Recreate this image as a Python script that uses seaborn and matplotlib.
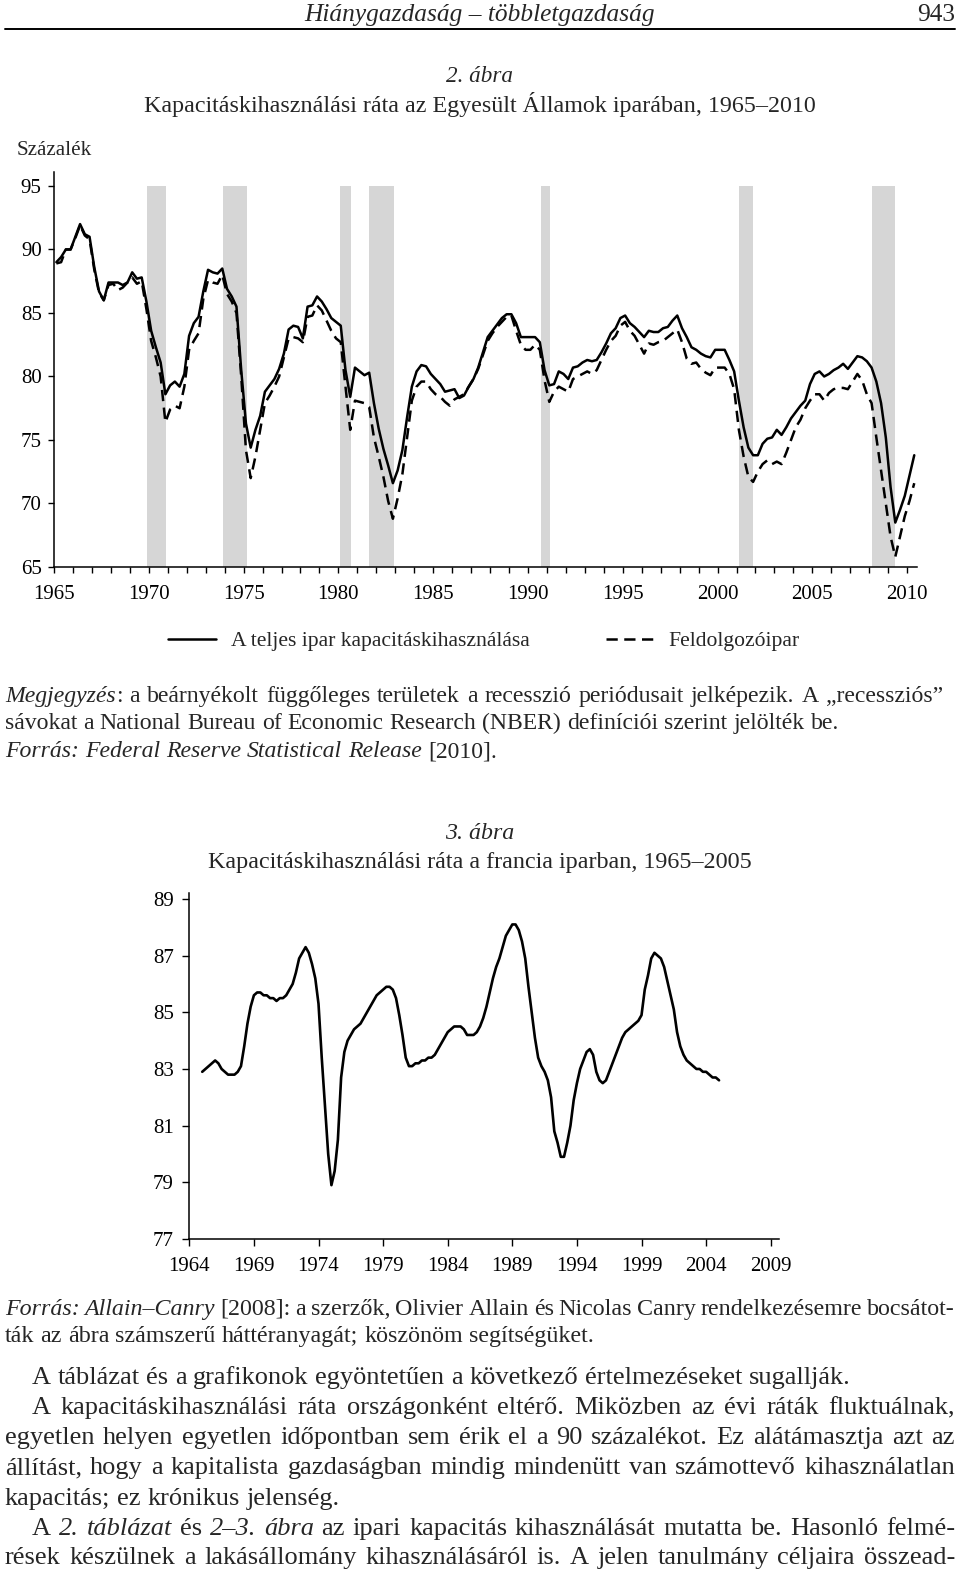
import matplotlib
matplotlib.use("Agg")
import numpy as np
import pandas as pd
import matplotlib.pyplot as plt
import seaborn as sns
from matplotlib.lines import Line2D

# --- 2. ábra: US capacity utilisation, quarterly from 1965 Q1 ---
us_start_year = 1965
total_industry = [
    89.0, 89.4, 90.0, 90.0, 91.0, 92.0, 91.2, 91.0, 88.6, 86.7, 86.0, 87.4,
    87.4, 87.4, 87.2, 87.4, 88.2, 87.7, 87.8, 85.9, 83.6, 82.3, 81.1, 78.6,
    79.3, 79.6, 79.2, 80.2, 83.2, 84.2, 84.7, 86.7, 88.4, 88.2, 88.1, 88.5,
    86.9, 86.3, 85.5, 80.5, 76.3, 74.4, 75.8, 76.9, 78.8, 79.3, 79.8, 80.6,
    81.8, 83.7, 84.0, 83.9, 83.0, 85.5, 85.6, 86.3, 85.9, 85.3, 84.6, 84.3,
    84.0, 80.5, 78.4, 80.7, 80.4, 80.1, 80.3, 77.9, 75.9, 74.3, 73.0, 71.6,
    72.6, 74.2, 76.8, 79.2, 80.4, 80.9, 80.8, 80.2, 79.8, 79.4, 78.8, 78.9,
    79.0, 78.3, 78.5, 79.2, 79.8, 80.7, 81.9, 83.1, 83.6, 84.1, 84.6, 84.9,
    84.9, 84.2, 83.1, 83.1, 83.1, 83.1, 82.7, 80.5, 79.3, 79.4, 80.4, 80.2,
    79.8, 80.7, 80.8, 81.1, 81.3, 81.2, 81.3, 81.9, 82.6, 83.4, 83.8, 84.6,
    84.8, 84.2, 83.9, 83.5, 83.1, 83.6, 83.5, 83.5, 83.8, 83.9, 84.4, 84.8,
    83.8, 83.1, 82.3, 82.1, 81.8, 81.6, 81.5, 82.1, 82.1, 82.1, 81.3, 80.4,
    78.1, 76.0, 74.4, 73.8, 73.8, 74.7, 75.1, 75.2, 75.8, 75.4, 76.0, 76.7,
    77.2, 77.7, 78.1, 79.4, 80.2, 80.4, 80.0, 80.2, 80.5, 80.7, 81.0, 80.6,
    81.1, 81.6, 81.5, 81.2, 80.7, 79.6, 77.9, 75.2, 71.3, 68.5, 69.5, 70.6,
    72.2, 73.8,
]
manufacturing = [
    88.9, 89.0, 90.0, 90.0, 90.9, 91.9, 91.1, 90.8, 88.4, 86.6, 86.0, 87.2,
    87.3, 86.8, 87.0, 87.4, 87.8, 87.3, 87.5, 85.3, 82.8, 81.5, 80.0, 76.4,
    77.4, 77.7, 77.5, 79.2, 82.1, 82.8, 83.4, 86.1, 87.6, 87.4, 87.3, 88.0,
    86.5, 85.9, 85.0, 80.0, 74.2, 72.0, 73.7, 75.8, 77.9, 78.5, 79.2, 80.0,
    81.5, 83.0, 83.1, 83.0, 82.7, 84.7, 84.8, 85.6, 85.2, 84.4, 83.6, 83.0,
    82.7, 79.2, 75.8, 78.1, 78.0, 77.9, 77.6, 75.2, 73.7, 72.1, 70.2, 68.8,
    70.4, 72.3, 75.2, 78.1, 79.2, 79.6, 79.6, 79.0, 78.6, 78.4, 78.0, 77.7,
    78.2, 78.4, 78.6, 79.2, 79.8, 80.6, 81.7, 82.8, 83.4, 83.9, 84.3, 84.7,
    84.8, 83.6, 82.5, 82.1, 82.1, 82.5, 82.1, 79.7, 78.0, 78.8, 79.2, 79.0,
    78.8, 79.8, 80.0, 80.2, 80.4, 80.2, 80.5, 81.3, 82.1, 82.8, 83.2, 84.0,
    84.3, 83.6, 83.2, 82.5, 81.8, 82.6, 82.5, 82.7, 82.8, 83.1, 83.4, 83.7,
    82.7, 81.4, 81.0, 81.1, 80.6, 80.3, 80.1, 80.7, 80.7, 80.7, 80.2, 79.0,
    75.8, 73.7, 72.1, 71.7, 72.5, 73.1, 73.4, 73.1, 73.3, 73.1, 74.0, 75.0,
    76.0, 76.6, 77.5, 78.1, 78.6, 78.6, 78.1, 78.7, 79.0, 79.1, 79.1, 79.0,
    79.6, 80.2, 79.7, 78.6, 77.9, 75.2, 72.6, 70.0, 67.4, 65.8, 67.4, 69.0,
    70.2, 71.6,
]
series_names = ["A teljes ipar kapacitáskihasználása", "Feldolgozóipar"]

# NBER recessions as drawn (decimal years)
rec_start = [1969.9, 1973.9, 1980.1, 1981.63, 1990.67, 2001.15, 2008.14]
rec_end = [1970.9, 1975.16, 1980.65, 1982.92, 1991.14, 2001.85, 2009.36]

us_xticks = list(range(1965, 2011, 5))
us_yticks = [65, 70, 75, 80, 85, 90, 95]

# --- 3. ábra: French capacity utilisation, quarterly from 1965.0 to 2005.0 ---
fr_start_year = 1965
france = [
    82.9, 83.0, 83.1, 83.2, 83.3, 83.2, 83.0, 82.9, 82.8, 82.8, 82.8, 82.9,
    83.1, 83.8, 84.6, 85.2, 85.6, 85.7, 85.7, 85.6, 85.6, 85.5, 85.5, 85.4,
    85.5, 85.5, 85.6, 85.8, 86.0, 86.4, 86.9, 87.1, 87.3, 87.1, 86.7, 86.2,
    85.3, 83.4, 81.7, 80.0, 78.9, 79.4, 80.5, 82.7, 83.6, 84.0, 84.2, 84.4,
    84.5, 84.6, 84.8, 85.0, 85.2, 85.4, 85.6, 85.7, 85.8, 85.9, 85.9, 85.8,
    85.5, 84.9, 84.2, 83.4, 83.1, 83.1, 83.2, 83.2, 83.3, 83.3, 83.4, 83.4,
    83.5, 83.7, 83.9, 84.1, 84.3, 84.4, 84.5, 84.5, 84.5, 84.4, 84.2, 84.2,
    84.2, 84.3, 84.5, 84.8, 85.2, 85.7, 86.2, 86.6, 86.9, 87.3, 87.7, 87.9,
    88.1, 88.1, 87.9, 87.5, 86.9, 85.9, 85.0, 84.1, 83.4, 83.1, 82.9, 82.6,
    82.0, 80.8, 80.4, 79.9, 79.9, 80.4, 81.0, 81.9, 82.5, 83.0, 83.3, 83.6,
    83.7, 83.5, 82.9, 82.6, 82.5, 82.6, 82.9, 83.2, 83.5, 83.8, 84.1, 84.3,
    84.4, 84.5, 84.6, 84.7, 84.9, 85.8, 86.3, 86.9, 87.1, 87.0, 86.9, 86.6,
    86.1, 85.6, 85.1, 84.3, 83.8, 83.5, 83.3, 83.2, 83.1, 83.0, 83.0, 82.9,
    82.9, 82.8, 82.7, 82.7, 82.6,
]
fr_xticks = list(range(1964, 2010, 5))
fr_yticks = [77, 79, 81, 83, 85, 87, 89]

W, H = 960, 1571
TICK_SIZE = 15


def main():
    sns.set_style("ticks")
    plt.rcParams["font.family"] = ["Liberation Serif", "DejaVu Serif"]
    plt.rcParams["axes.edgecolor"] = "black"
    plt.rcParams["xtick.color"] = "black"
    plt.rcParams["ytick.color"] = "black"

    fig = plt.figure(figsize=(W / 100, H / 100), dpi=100)
    fig.patch.set_facecolor("white")
    renderer = fig.canvas.get_renderer()

    fx = lambda x: x / W
    fy = lambda y: 1 - y / H

    def text_width(s, size, italic=False):
        t = fig.text(0, 0, s, fontsize=size, fontstyle="italic" if italic else "normal")
        w = t.get_window_extent(renderer).width
        t.remove()
        return w

    def fit(s, width, italic=False):
        return 20 * width / text_width(s, 20, italic)

    def put_line(s, y, x0, size, x1=None):
        # '*' toggles italic; words are placed one by one so the line can be justified
        words, ital = [], False
        for w in s.split(" "):
            frags = []
            for k, piece in enumerate(w.split("*")):
                if k > 0:
                    ital = not ital
                if piece:
                    frags.append((piece, ital))
            words.append(frags)
        widths = [[text_width(p, size, it) for p, it in frags] for frags in words]
        total = sum(sum(ws) for ws in widths)
        gap = text_width("a a", size) - text_width("aa", size)
        if x1 is not None and len(words) > 1:
            gap = (x1 - x0 - total) / (len(words) - 1)
        x = x0
        for frags, ws in zip(words, widths):
            for (p, it), w in zip(frags, ws):
                fig.text(fx(x), fy(y), p, fontsize=size, va="baseline", ha="left",
                         fontstyle="italic" if it else "normal")
                x += w
            x += gap

    # ---------- page header ----------
    hs = fit("Hiánygazdaság – többletgazdaság", 350, italic=True)
    fig.text(fx(480), fy(21), "Hiánygazdaság – többletgazdaság", ha="center",
             va="baseline", fontsize=hs, fontstyle="italic")
    fig.text(fx(955), fy(21), "943", ha="right", va="baseline", fontsize=hs)
    fig.add_artist(Line2D([fx(5), fx(955)], [fy(29), fy(29)], color="black",
                          lw=1.4, transform=fig.transFigure))

    # ---------- 2. ábra ----------
    fig.text(fx(480), fy(82), "2. ábra", ha="center", va="baseline",
             fontsize=fit("2. ábra", 67, True), fontstyle="italic")
    t1 = "Kapacitáskihasználási ráta az Egyesült Államok iparában, 1965–2010"
    fig.text(fx(480), fy(112), t1, ha="center", va="baseline", fontsize=fit(t1, 670))
    fig.text(fx(17), fy(155), "Százalék", ha="left", va="baseline",
             fontsize=fit("Százalék", 75))

    n = len(total_industry)
    years = us_start_year + 0.125 + 0.25 * np.arange(n)
    us = pd.DataFrame({
        "év": np.concatenate([years, years]),
        "ráta": total_industry + manufacturing,
        "sorozat": [series_names[0]] * n + [series_names[1]] * n,
    })

    ax1 = fig.add_axes([fx(54), fy(567), (917 - 54) / W, (567 - 172) / H])
    ax1.set_xlim(1965, 2010.52)
    ax1.set_ylim(65, 96.1)
    for s, e in zip(rec_start, rec_end):
        ax1.axvspan(s, e, ymin=0, ymax=(95 - 65) / (96.1 - 65), color="#d6d6d6",
                    lw=0, zorder=0)
    sns.lineplot(data=us, x="év", y="ráta", hue="sorozat", style="sorozat",
                 palette=["black", "black"],
                 dashes={series_names[0]: "", series_names[1]: (4.5, 2.6)},
                 linewidth=1.8, errorbar=None, ax=ax1)
    sns.move_legend(ax1, "center", bbox_to_anchor=(fx(484), fy(641)),
                    bbox_transform=fig.transFigure, ncol=2, frameon=False, title=None,
                    fontsize=15.6, handlelength=2.2, handletextpad=0.7,
                    columnspacing=3.5)
    ax1.set_xticks(us_xticks)
    ax1.set_xticks(range(1965, 2011), minor=True)
    ax1.set_yticks(us_yticks)
    ax1.set(xlabel="", ylabel="")
    ax1.tick_params(which="both", direction="out", length=4.4, width=1.0)
    ax1.tick_params(axis="x", pad=8.5, labelsize=TICK_SIZE)
    ax1.tick_params(axis="y", pad=4.5, labelsize=TICK_SIZE)
    sns.despine(ax=ax1)
    for sp in ax1.spines.values():
        sp.set_linewidth(1.1)

    ns = fit("sávokat a National Bureau of Economic Research (NBER) definíciói szerint jelölték be.", 838)
    put_line("*Megjegyzés*: a beárnyékolt függőleges területek a recesszió periódusait jelképezik. A „recessziós”",
             702, 5, ns, 943)
    put_line("sávokat a National Bureau of Economic Research (NBER) definíciói szerint jelölték be.",
             729, 5, ns)
    put_line("*Forrás: Federal Reserve Statistical Release* [2010].", 757, 5, ns)

    # ---------- 3. ábra ----------
    fig.text(fx(480), fy(839), "3. ábra", ha="center", va="baseline",
             fontsize=fit("3. ábra", 69, True), fontstyle="italic")
    t2 = "Kapacitáskihasználási ráta a francia iparban, 1965–2005"
    fig.text(fx(480), fy(868), t2, ha="center", va="baseline", fontsize=fit(t2, 545))

    fr_years = fr_start_year + 0.25 * np.arange(len(france))
    ax2 = fig.add_axes([fx(189.3), fy(1239), (779 - 189.3) / W, (1239 - 893) / H])
    ax2.set_xlim(1964, 2009.64)
    ax2.set_ylim(77, 89.21)
    sns.lineplot(x=fr_years, y=france, color="black", linewidth=1.9, ax=ax2)
    ax2.set_xticks(fr_xticks)
    ax2.set_yticks(fr_yticks)
    ax2.tick_params(direction="out", length=4.7, width=1.0)
    ax2.tick_params(axis="x", pad=8, labelsize=TICK_SIZE)
    ax2.tick_params(axis="y", pad=6.5, labelsize=TICK_SIZE)
    sns.despine(ax=ax2)
    for sp in ax2.spines.values():
        sp.set_linewidth(1.1)

    cs = fit("ták az ábra számszerű háttéranyagát; köszönöm segítségüket.", 588)
    put_line("*Forrás: Allain–Canry* [2008]: a szerzők, Olivier Allain és Nicolas Canry rendelkezésemre bocsátot-",
             1315, 5, cs, 955)
    put_line("ták az ábra számszerű háttéranyagát; köszönöm segítségüket.", 1342, 5, cs)

    # ---------- body text ----------
    bs = fit("A táblázat és a grafikonok egyöntetűen a következő értelmezéseket sugallják.", 818)
    put_line("A táblázat és a grafikonok egyöntetűen a következő értelmezéseket sugallják.", 1384, 32, bs)
    put_line("A kapacitáskihasználási ráta országonként eltérő. Miközben az évi ráták fluktuálnak,",
             1414, 32, bs, 955)
    put_line("egyetlen helyen egyetlen időpontban sem érik el a 90 százalékot. Ez alátámasztja azt az",
             1444, 5, bs, 955)
    put_line("állítást, hogy a kapitalista gazdaságban mindig mindenütt van számottevő kihasználatlan",
             1474, 5, bs, 955)
    put_line("kapacitás; ez krónikus jelenség.", 1505, 5, bs)
    put_line("A *2. táblázat* és *2–3. ábra* az ipari kapacitás kihasználását mutatta be. Hasonló felmé-",
             1535, 32, bs, 955)
    put_line("rések készülnek a lakásállomány kihasználásáról is. A jelen tanulmány céljaira összead-",
             1564, 5, bs, 955)

    fig.savefig("out.png", dpi=100, facecolor="white")
    print("Saved out.png")


if __name__ == "__main__":
    main()
